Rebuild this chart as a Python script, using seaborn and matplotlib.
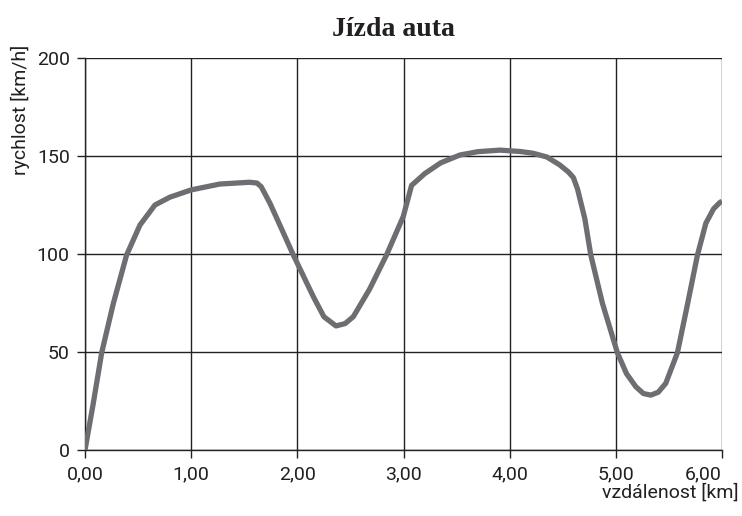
import numpy as np
import pandas as pd
import matplotlib
matplotlib.use("Agg")
import matplotlib.pyplot as plt
import seaborn as sns

# values
distance_km = [0.0, 0.078, 0.157, 0.267, 0.392, 0.518, 0.659, 0.80, 1.0, 1.27,
               1.55, 1.62, 1.66, 1.742, 1.85, 1.962, 2.151, 2.25, 2.364, 2.45,
               2.527, 2.68, 2.84, 2.997, 3.076, 3.2, 3.35, 3.531, 3.7, 3.908,
               4.1, 4.22, 4.35, 4.47, 4.55, 4.6, 4.64, 4.708, 4.764, 4.874, 5.015,
               5.1, 5.188, 5.26, 5.33, 5.40, 5.47, 5.58, 5.67, 5.769, 5.848,
               5.92, 5.974, 6.0]
speed_kmh = [0, 23.8, 49.6, 74.8, 99.5, 114.8, 125, 129, 132.7, 135.7,
             136.6, 136.2, 134.3, 125.9, 113, 99.5, 78.2, 68, 63.3, 64.5,
             68, 82, 99.5, 119, 135, 141, 146.5, 150.5, 152.2, 153,
             152.3, 151.4, 149.5, 145.5, 142, 139, 133, 118, 99.5, 74.8, 49.6,
             39, 32.3, 28.8, 28, 29.5, 34, 49.6, 73, 99.5, 115.7,
             123, 126, 127]

x_ticks = [0, 1, 2, 3, 4, 5, 6]
x_labels = ["0,00", "1,00", "2,00", "3,00", "4,00", "5,00", "6,00"]
y_ticks = [0, 50, 100, 150, 200]

df = pd.DataFrame({"vzdalenost": distance_km, "rychlost": speed_kmh})

sns.set_theme(style="white")
plt.rcParams['font.family'] = ['Roboto', 'DejaVu Sans']

fig = plt.figure(figsize=(7.42, 5.16), dpi=100)
ax = fig.add_axes([85 / 742, 66 / 516, 637 / 742, 392 / 516])

sns.lineplot(data=df, x="vzdalenost", y="rychlost", ax=ax, color="#6d6e71",
             linewidth=3.8, solid_capstyle="butt", solid_joinstyle="round", zorder=3)

ax.set_xlim(0, 6)
ax.set_ylim(0, 200)
ax.set_xticks(x_ticks)
ax.set_xticklabels(x_labels)
ax.set_yticks(y_ticks)
ax.get_xticklabels()[-1].set_ha("right")

ax.grid(True, color="#222222", linewidth=1.0)
for s in ["top", "right"]:
    ax.spines[s].set_visible(False)
for s in ["left", "bottom"]:
    ax.spines[s].set_color("#222222")
    ax.spines[s].set_linewidth(1.0)

ax.tick_params(axis="both", which="major", direction="out", length=6, width=1.0,
               color="#222222", labelsize=14, labelcolor="#231f20", pad=5)
ax.tick_params(left=True, bottom=True)

ax.set_xlabel("")
ax.set_ylabel("")
fig.text(739 / 742, 1 - 493 / 516, "vzdálenost [km]", ha="right", va="center",
         fontsize=14, color="#231f20")
fig.text(20 / 742, 1 - 110 / 516, "rychlost [km/h]", ha="center", va="center",
         rotation=90, fontsize=14, color="#231f20")
fig.text(393 / 742, 1 - 30 / 516, "Jízda auta", ha="center", va="center",
         fontsize=20, fontweight="bold", color="#231f20",
         family=["Liberation Serif", "DejaVu Serif"])

fig.savefig("out.png", dpi=100)
